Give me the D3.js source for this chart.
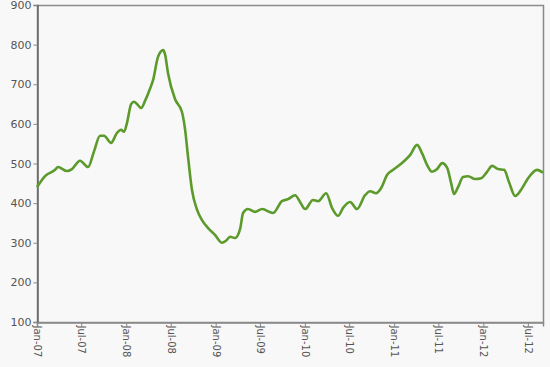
<!DOCTYPE html>
<html>
<head>
<meta charset="utf-8">
<script src="https://cdn.jsdelivr.net/npm/d3@7"></script>
<style>
  body { margin: 0; background: #f8f8f8; }
  svg { display: block; font-family: "DejaVu Sans", sans-serif; }
</style>
</head>
<body>
<div id="chart"></div>
<script>
// readings
var dates = [
  "2007-01-01","2007-02-03","2007-03-16","2007-03-28","2007-05-04","2007-05-24","2007-06-26","2007-07-29",
  "2007-08-22","2007-09-16","2007-10-02","2007-10-31","2007-11-24","2007-12-11","2007-12-23","2008-01-04",
  "2008-01-21","2008-02-02","2008-02-14","2008-03-02","2008-03-18","2008-04-07","2008-04-20","2008-05-10",
  "2008-05-31","2008-06-08","2008-06-20","2008-07-19","2008-08-16","2008-08-29","2008-09-10","2008-09-26",
  "2008-10-17","2008-11-06","2008-12-01","2008-12-29","2009-01-27","2009-02-12","2009-03-01","2009-03-21",
  "2009-04-11","2009-04-23","2009-05-13","2009-06-11","2009-07-10","2009-08-24","2009-09-29","2009-10-24",
  "2009-11-22","2009-12-12","2010-01-02","2010-02-03","2010-02-24","2010-03-29","2010-04-22","2010-05-17",
  "2010-06-06","2010-07-05","2010-08-02","2010-09-04","2010-09-25","2010-10-19","2010-11-09","2010-12-03",
  "2010-12-28","2011-02-07","2011-03-07","2011-04-05","2011-04-25","2011-05-16","2011-06-05","2011-06-26",
  "2011-07-16","2011-08-06","2011-08-22","2011-09-03","2011-09-20","2011-10-10","2011-10-31","2011-11-28",
  "2011-12-23","2012-01-16","2012-02-06","2012-03-01","2012-03-26","2012-04-15","2012-05-10","2012-06-08",
  "2012-07-02","2012-08-08","2012-09-01"
];
var values = [
  440,468,484,491,481,486,507,491,
  530,570,570,552,577,585,580,602,
  650,656,650,640,658,688,711,769,
  786,775,728,662,630,585,516,433,
  383,357,337,320,300,305,315,312,
  335,375,385,378,385,375,405,410,
  420,403,385,408,405,425,388,368,
  388,403,385,420,430,425,438,471,
  484,504,521,547,526,496,479,486,
  501,489,451,423,441,466,468,461,
  463,479,494,486,484,453,418,438,
  463,484,477
];
var yTicks = [100, 200, 300, 400, 500, 600, 700, 800, 900];
var xTickDates = ["2007-01-01","2007-07-01","2008-01-01","2008-07-01","2009-01-01","2009-07-01",
                  "2010-01-01","2010-07-01","2011-01-01","2011-07-01","2012-01-01","2012-07-01"];

function init() {
    var w = 550, h = 367;
    var margin = {top: 5, right: 7, bottom: 45, left: 37};
    var parse = d3.timeParse("%Y-%m-%d");

    var data = dates.map(function(d, i) { return {date: parse(d), value: values[i]}; });

    var svg = d3.select("#chart").append("svg")
        .attr("width", w)
        .attr("height", h);

    var xScale = d3.scaleTime()
        .domain([parse("2007-01-01"), parse("2012-09-01")])
        .range([margin.left, w - margin.right]);

    var yScale = d3.scaleLinear()
        .domain([100, 900])
        .range([h - margin.bottom, margin.top]);

    // frame on top and right
    svg.append("rect")
        .attr("x", margin.left + 0.5)
        .attr("y", margin.top + 0.5)
        .attr("width", w - margin.right - margin.left)
        .attr("height", h - margin.bottom - margin.top)
        .attr("fill", "#f8f8f8")
        .attr("stroke", "#8a8a8a")
        .attr("stroke-width", 1.5);

    // y axis
    var yAxis = d3.axisLeft(yScale).tickValues(yTicks).tickSize(4).tickPadding(2);
    var gy = svg.append("g")
        .attr("transform", "translate(" + (margin.left + 0.5) + ",0)")
        .call(yAxis);
    gy.select(".domain").attr("stroke", "#666").attr("stroke-width", 1.5);
    gy.selectAll(".tick line").attr("stroke", "#888");
    gy.selectAll("text").attr("font-size", "11px").attr("fill", "#555")
        .attr("font-family", "DejaVu Sans, sans-serif");

    // x axis, rotated labels
    var xAxis = d3.axisBottom(xScale)
        .tickValues(xTickDates.map(parse))
        .tickFormat(d3.timeFormat("%b-%y"))
        .tickSize(4);
    var gx = svg.append("g")
        .attr("transform", "translate(0," + (h - margin.bottom + 0.5) + ")")
        .call(xAxis);
    gx.select(".domain").attr("stroke", "#8a8a8a").attr("stroke-width", 1.5);
    gx.selectAll(".tick line").attr("stroke", "#888");
    gx.selectAll("text")
        .attr("font-size", "10px")
        .attr("fill", "#555")
        .attr("font-family", "DejaVu Sans, sans-serif")
        .attr("transform", "rotate(90)")
        .attr("x", 3)
        .attr("y", 0)
        .attr("dy", "0.35em")
        .style("text-anchor", "start");

    var line = d3.line()
        .x(function(d) { return xScale(d.date); })
        .y(function(d) { return yScale(d.value); })
        .curve(d3.curveMonotoneX);

    svg.append("path")
        .datum(data)
        .attr("d", line)
        .attr("fill", "none")
        .attr("stroke", "#5b9a2b")
        .attr("stroke-width", 2.6)
        .attr("stroke-linejoin", "round");
}

window.onload = init;
</script>
</body>
</html>
